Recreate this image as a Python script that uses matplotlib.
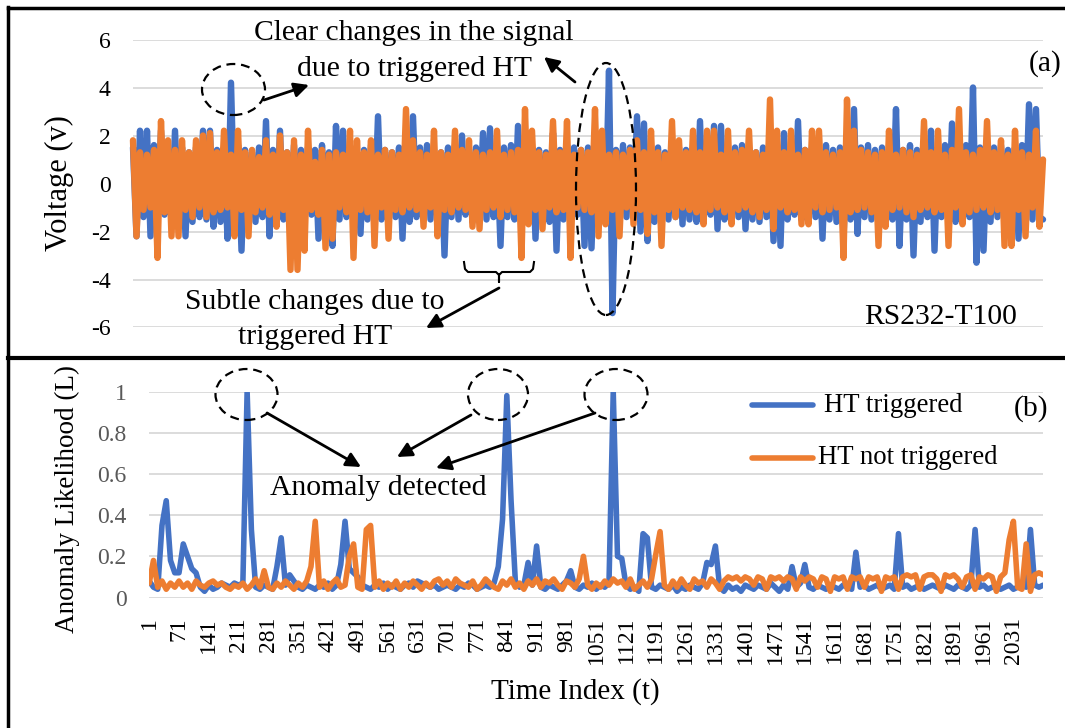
import numpy as np
import matplotlib
matplotlib.use("Agg")
import matplotlib.pyplot as plt
from matplotlib.patches import Ellipse, FancyArrowPatch
from matplotlib.lines import Line2D

plt.rcParams["font.family"] = "Liberation Serif"
plt.rcParams["axes.unicode_minus"] = False

BLUE = "#4472C4"
ORANGE = "#ED7D31"
GRID = "#D9D9D9"

# ---- panel (a): voltage signal (one value ~ every 8 samples)
volt_ht = [
    1.5, -2.2, 2.2, -1.4, 2.2, -2.2, 1.6, -1.5, 2.2, -1.3,
    1.4, -1.6, 2.2, -1.4, 1.5, -2.2, 1.3, -1.6, 1.5, -1.4,
    2.2, -1.5, 2.2, -1.8, 1.4, -1.6, 1.5, -2.3, 4.2, -1.3,
    1.6, -2.8, 1.4, -1.5, 1.3, -1.6, 1.5, -1.4, 2.6, -2.2,
    1.4, -1.6, 2.2, -1.5, 1.3, -1.4, 1.6, -1.5, 1.4, -1.6,
    1.5, -1.3, 1.4, -2.3, 1.6, -1.4, 1.3, -2.6, 2.4, -1.5,
    2.2, -1.4, 1.5, -1.6, 1.3, -2.1, 1.4, -1.5, 1.6, -1.4,
    2.8, -1.5, 1.4, -1.6, 1.3, -1.4, 1.5, -2.3, 1.4, -1.6,
    2.8, -1.4, 1.5, -1.3, 1.6, -1.5, 1.4, -1.6, 1.3, -3.0,
    1.5, -1.4, 1.6, -1.5, 2.0, -1.3, 1.4, -1.6, 1.5, -1.4,
    2.1, -1.5, 2.3, -1.4, 1.3, -2.6, 1.5, -1.4, 1.6, -1.5,
    2.4, -1.3, 1.4, -1.6, 1.5, -2.3, 1.4, -1.5, 1.3, -1.6,
    2.1, -2.8, 1.4, -1.5, 1.6, -1.4, 1.5, -1.3, 1.4, -2.6,
    1.5, -2.7, 1.4, -1.6, 1.5, -1.4, 4.7, -5.4, 1.4, -1.5,
    1.6, -1.4, 1.5, -1.3, 2.8, -2.0, 2.5, -2.4, 1.4, -1.6,
    1.5, -1.4, 1.3, -1.5, 1.6, -1.4, 1.5, -1.7, 1.4, -1.5,
    1.3, -1.6, 2.6, -1.4, 1.5, -1.3, 2.4, -1.9, 2.4, -1.5,
    1.4, -1.6, 1.5, -1.4, 1.6, -1.9, 1.4, -1.5, 1.3, -1.6,
    1.5, -1.4, 1.4, -2.4, 1.6, -2.6, 2.1, -1.5, 1.4, -1.3,
    2.6, -1.5, 1.4, -1.6, 1.5, -1.4, 1.3, -2.3, 1.6, -1.5,
    1.4, -1.6, 1.5, -2.3, 1.4, -1.5, 3.1, -2.1, 1.5, -1.4,
    1.6, -1.5, 1.4, -1.3, 1.5, -1.6, 1.4, -1.5, 3.1, -2.6,
    1.4, -1.5, 1.6, -3.0, 1.4, -1.6, 1.5, -1.4, 2.2, -2.8,
    1.5, -1.4, 1.6, -1.5, 2.5, -1.6, 1.4, -1.5, 1.6, -1.4,
    4.0, -3.3, 1.5, -2.8, 1.4, -1.6, 1.5, -1.4, 1.6, -1.5,
    1.4, -1.6, 1.5, -2.3, 1.6, -1.4, 3.3, -1.5, 3.1, -1.4,
    -1.5,
]
volt_no_ht = [
    1.8, -2.2, 1.3, -1.1, 1.2, -1.0, 1.4, -3.1, 2.6, -1.2,
    1.8, -2.2, 1.4, -2.2, 1.8, -1.1, 1.3, -1.4, 1.8, -1.0,
    2.0, -1.4, 2.1, -1.2, 1.3, -1.1, 2.2, -1.0, 1.2, -2.2,
    2.2, -1.1, 1.3, -2.2, 1.4, -1.2, 1.1, -1.0, 1.8, -1.3,
    1.2, -1.8, 2.0, -1.1, 1.3, -3.6, 1.8, -3.6, 1.2, -2.8,
    2.2, -1.1, 0.9, -1.3, 1.4, -2.7, 1.2, -2.3, 1.3, -1.0,
    1.2, -1.2, 2.2, -3.1, 1.8, -1.1, 1.3, -1.2, 1.8, -2.6,
    1.2, -1.0, 1.4, -2.3, 1.3, -1.1, 1.2, -1.2, 3.1, -1.0,
    1.8, -1.1, 1.3, -1.8, 1.2, -1.0, 2.2, -2.2, 1.3, -1.1,
    1.2, -1.2, 2.2, -1.0, 1.4, -1.1, 1.8, -1.8, 1.3, -1.9,
    1.2, -1.1, 1.3, -1.0, 2.2, -1.4, 1.2, -1.1, 1.3, -1.2,
    1.4, -3.1, 3.1, -1.7, 2.2, -1.1, 1.3, -1.9, 1.2, -1.0,
    2.6, -1.2, 1.3, -1.1, 2.6, -3.1, 1.2, -1.0, 1.4, -1.1,
    1.3, -1.2, 3.1, -2.2, 2.2, -1.7, 1.2, -1.1, 1.3, -2.2,
    1.2, -1.0, 1.4, -1.7, 1.8, -1.1, 1.3, -2.1, 2.2, -1.2,
    1.3, -2.6, 1.2, -1.1, 2.6, -1.4, 1.8, -1.0, 1.3, -1.1,
    2.2, -1.2, 1.3, -1.7, 2.2, -1.1, 2.2, -1.0, 1.2, -1.2,
    2.2, -1.7, 1.3, -1.1, 1.4, -1.0, 2.2, -1.2, 1.3, -1.4,
    1.2, -1.1, 3.5, -1.9, 2.2, -1.0, 1.3, -1.2, 2.2, -1.1,
    1.2, -1.7, 1.4, -1.7, 2.2, -1.0, 2.2, -1.2, 1.3, -1.1,
    1.2, -1.0, 1.3, -3.1, 3.5, -1.2, 2.2, -1.1, 1.4, -1.0,
    1.3, -1.2, 1.2, -2.6, 1.3, -1.8, 2.2, -1.1, 1.2, -1.0,
    1.4, -1.2, 1.3, -1.4, 1.2, -1.1, 2.6, -1.0, 1.3, -1.2,
    2.2, -1.1, 1.2, -2.6, 1.4, -1.0, 3.1, -1.7, 1.3, -1.2,
    1.2, -1.1, 1.4, -1.0, 2.6, -1.2, 1.3, -1.1, 1.8, -2.6,
    1.2, -2.6, 2.2, -1.1, 1.3, -2.2, 1.2, -1.0, 2.2, -1.8,
    1.0,
]
volt_ticks = [-6, -4, -2, 0, 2, 4, 6]

# ---- panel (b): anomaly likelihood, one value every 10 time steps
time_index = np.arange(1, 2102, 10)
like_ht = [
    0.08, 0.05, 0.04, 0.35, 0.47, 0.18, 0.12, 0.12, 0.26, 0.20,
    0.14, 0.12, 0.05, 0.03, 0.06, 0.04, 0.05, 0.07, 0.06, 0.05,
    0.07, 0.06, 0.07, 1.00, 0.33, 0.05, 0.04, 0.06, 0.05, 0.04,
    0.15, 0.29, 0.06, 0.11, 0.08, 0.05, 0.04, 0.06, 0.05, 0.04,
    0.06, 0.05, 0.07, 0.04, 0.06, 0.16, 0.37, 0.14, 0.12, 0.10,
    0.06, 0.05, 0.04, 0.06, 0.05, 0.07, 0.04, 0.06, 0.05, 0.04,
    0.06, 0.07, 0.05, 0.08, 0.07, 0.06, 0.05, 0.06, 0.04, 0.05,
    0.06, 0.05, 0.04, 0.06, 0.05, 0.07, 0.06, 0.04, 0.05, 0.06,
    0.05, 0.07, 0.15, 0.38, 0.98, 0.47, 0.08, 0.05, 0.06, 0.17,
    0.06, 0.25, 0.05, 0.04, 0.06, 0.05, 0.04, 0.06, 0.08, 0.13,
    0.05, 0.04, 0.06, 0.05, 0.07, 0.04, 0.06, 0.05, 0.07, 1.00,
    0.20, 0.19, 0.06, 0.04, 0.05, 0.03, 0.31, 0.29, 0.05, 0.04,
    0.06, 0.05, 0.04, 0.06, 0.03, 0.05, 0.04, 0.06, 0.05, 0.04,
    0.07, 0.17, 0.16, 0.25, 0.05, 0.03, 0.06, 0.04, 0.05, 0.03,
    0.06, 0.05, 0.04, 0.06, 0.05, 0.04, 0.07, 0.05, 0.03, 0.06,
    0.04, 0.15, 0.05, 0.07, 0.16, 0.05, 0.04, 0.06, 0.05, 0.04,
    0.06, 0.05, 0.04, 0.06, 0.05, 0.04, 0.22, 0.05, 0.06, 0.04,
    0.05, 0.06, 0.04, 0.05, 0.06, 0.04, 0.31, 0.05, 0.06, 0.04,
    0.05, 0.06, 0.04, 0.05, 0.06, 0.05, 0.04, 0.06, 0.05, 0.04,
    0.06, 0.05, 0.04, 0.06, 0.33, 0.05, 0.06, 0.04, 0.05, 0.06,
    0.04, 0.05, 0.06, 0.04, 0.05, 0.06, 0.05, 0.33, 0.06, 0.05,
    0.06,
]
like_no_ht = [
    0.07, 0.18, 0.05, 0.08, 0.04, 0.07, 0.05, 0.08, 0.05, 0.07,
    0.04, 0.08, 0.06, 0.05, 0.07, 0.08, 0.06, 0.07, 0.05, 0.04,
    0.06, 0.05, 0.07, 0.04, 0.06, 0.09, 0.05, 0.13, 0.05, 0.04,
    0.07, 0.05, 0.08, 0.06, 0.04, 0.07, 0.05, 0.08, 0.15, 0.37,
    0.05, 0.08, 0.04, 0.07, 0.09, 0.05, 0.06, 0.20, 0.26, 0.05,
    0.04, 0.33, 0.35, 0.05, 0.08, 0.04, 0.07, 0.05, 0.08, 0.04,
    0.07, 0.05, 0.08, 0.06, 0.04, 0.07, 0.05, 0.08, 0.09, 0.06,
    0.08, 0.05, 0.09, 0.07, 0.06, 0.05, 0.08, 0.04, 0.06, 0.09,
    0.07, 0.05, 0.04, 0.08, 0.06, 0.09, 0.05, 0.07, 0.04, 0.08,
    0.06, 0.09, 0.05, 0.08, 0.07, 0.09, 0.06, 0.04, 0.08, 0.07,
    0.05, 0.09, 0.20, 0.06, 0.04, 0.07, 0.05, 0.08, 0.06, 0.09,
    0.07, 0.08, 0.05, 0.09, 0.04, 0.06, 0.08, 0.05, 0.09, 0.21,
    0.32, 0.06, 0.04, 0.08, 0.05, 0.09, 0.06, 0.04, 0.09, 0.07,
    0.08, 0.05, 0.09, 0.07, 0.04, 0.08, 0.10, 0.09, 0.10, 0.08,
    0.10, 0.09, 0.06, 0.10, 0.09, 0.04, 0.10, 0.09, 0.10, 0.08,
    0.10, 0.09, 0.04, 0.10, 0.08, 0.10, 0.09, 0.05, 0.10, 0.09,
    0.03, 0.10, 0.09, 0.10, 0.04, 0.10, 0.09, 0.10, 0.05, 0.10,
    0.09, 0.10, 0.03, 0.10, 0.09, 0.10, 0.04, 0.10, 0.11, 0.10,
    0.11, 0.04, 0.10, 0.11, 0.11, 0.09, 0.03, 0.11, 0.10, 0.11,
    0.09, 0.05, 0.10, 0.11, 0.04, 0.10, 0.09, 0.11, 0.10, 0.03,
    0.10, 0.12, 0.28, 0.37, 0.05, 0.04, 0.26, 0.03, 0.11, 0.12,
    0.11,
]
like_ticks = [0, 0.2, 0.4, 0.6, 0.8, 1]
like_labels = ["0", "0.2", "0.4", "0.6", "0.8", "1"]
time_ticks = np.arange(1, 2032, 70)

W, H = 1065, 728


def fx(x):
    return x / W


def fy(y):
    return 1 - y / H


fig = plt.figure(figsize=(W / 100, H / 100), dpi=100)

# panel (a)
ax1 = fig.add_axes([fx(133), fy(327.5), (1043 - 133) / W, (327.5 - 39.5) / H])
idx = np.arange(len(volt_ht))
for vals, col in [(volt_ht, BLUE), (volt_no_ht, ORANGE)]:
    ax1.plot(idx, vals, color=col, lw=4.6, solid_capstyle="round",
             solid_joinstyle="round", clip_on=False)
ax1.set_xlim(0, len(volt_ht) - 1)
ax1.set_ylim(-6, 6)
ax1.set_yticks(volt_ticks)
ax1.set_xticks([])
ax1.set_ylabel("Voltage (v)", fontsize=22, labelpad=12)
ax1.tick_params(axis="y", length=0, pad=16, labelsize=17, labelcolor="black")
ax1.grid(axis="y", color=GRID, lw=1.3)
ax1.set_axisbelow(True)
for s in ax1.spines.values():
    s.set_visible(False)

# panel (b)
ax2 = fig.add_axes([fx(149), fy(597.5), (1043 - 149) / W, (597.5 - 391.5) / H])
ax2.plot(time_index, like_ht, color=BLUE, lw=4, solid_capstyle="round",
         solid_joinstyle="round")
ax2.plot(time_index, like_no_ht, color=ORANGE, lw=4, solid_capstyle="round",
         solid_joinstyle="round")
ax2.set_xlim(0.5, 2100.5)
ax2.set_ylim(0, 1)
ax2.set_yticks(like_ticks)
ax2.set_yticklabels(like_labels)
ax2.set_xticks(time_ticks)
ax2.set_xticklabels([str(t) for t in time_ticks], rotation=90)
ax2.tick_params(axis="y", length=0, pad=16, labelsize=17, labelcolor="#595959")
ax2.tick_params(axis="x", length=0, pad=14, labelsize=17)
ax2.grid(axis="y", color=GRID, lw=1.3)
ax2.set_axisbelow(True)
for s in ax2.spines.values():
    s.set_visible(False)

# axis titles placed like the original
fig.text(fx(67), fy(499), "Anomaly Likelihood (L)", rotation=90,
         ha="center", va="center", fontsize=19.5)
fig.text(fx(575), fy(692), "Time Index (t)", ha="center", va="center", fontsize=21)

# legend drawn by hand so the two rows sit where the original has them
fig.add_artist(Line2D([fx(752), fx(813)], [fy(405)] * 2, color=BLUE, lw=4,
                      solid_capstyle="round"))
fig.add_artist(Line2D([fx(752), fx(813)], [fy(458)] * 2, color=ORANGE, lw=4,
                      solid_capstyle="round"))
fig.text(fx(824), fy(405), "HT triggered", ha="left", va="center", fontsize=19.3)
fig.text(fx(818), fy(458), "HT not triggered", ha="left", va="center", fontsize=19.3)

# panel labels and notes
notes = [
    (414, 33, "Clear changes in the signal"),
    (414, 69, "due to triggered HT"),
    (315, 302, "Subtle changes due to"),
    (315, 337, "triggered HT"),
    (941, 317, "RS232-T100"),
    (1045, 64, "(a)"),
    (1031, 409, "(b)"),
    (378, 488, "Anomaly detected"),
]
for x, y, s in notes:
    fig.text(fx(x), fy(y), s, ha="center", va="center", fontsize=21.3)

# dashed ellipses
for cx, cy, w, h in [(233.5, 89.5, 63, 51), (606, 189, 60, 252),
                     (246.5, 394.5, 62, 51), (498, 394.5, 60, 51),
                     (616, 394.5, 63, 51)]:
    fig.add_artist(Ellipse((fx(cx), fy(cy)), w / W, h / H, fill=False,
                           ls=(0, (4, 2.6)), lw=1.6, ec="black",
                           transform=fig.transFigure))

# arrows
for x0, y0, x1, y1 in [(264, 100, 309, 85), (575, 82, 544, 57),
                       (499, 288, 426, 328), (267, 413, 361, 467),
                       (471, 415, 397, 457), (595, 413, 436, 468)]:
    fig.add_artist(FancyArrowPatch((fx(x0), fy(y0)), (fx(x1), fy(y1)),
                                   transform=fig.transFigure, arrowstyle="-|>",
                                   mutation_scale=22, lw=2, color="black",
                                   shrinkA=0, shrinkB=0))

# brace under the subtle changes
bx = [464, 465, 468, 496, 499, 499, 499, 502, 530, 533, 534]
by = [262, 269, 272, 272, 275, 282, 275, 272, 272, 269, 262]
fig.add_artist(Line2D([fx(v) for v in bx], [fy(v) for v in by],
                      color="black", lw=1.5))

# frame lines of the two panels
fig.add_artist(Line2D([fx(7.5), fx(7.5)], [fy(7), fy(728)], color="black", lw=2.5))
fig.add_artist(Line2D([fx(7.5), fx(1065)], [fy(7.5), fy(7.5)], color="black", lw=2.5))
fig.add_artist(Line2D([fx(7.5), fx(1065)], [fy(357.5), fy(357.5)], color="black", lw=3))

fig.savefig("out.png", dpi=100)
